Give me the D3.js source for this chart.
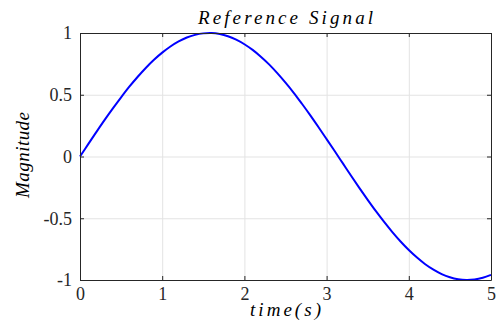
<!DOCTYPE html>
<html>
<head>
<meta charset="utf-8">
<script src="https://cdn.jsdelivr.net/npm/d3@7"></script>
</head>
<body style="margin:0; background:#fff">
<script>
const timeValues = [0.0, 0.1, 0.2, 0.3, 0.4, 0.5, 0.6, 0.7, 0.8, 0.9,
  1.0, 1.1, 1.2, 1.3, 1.4, 1.5, 1.6, 1.7, 1.8, 1.9,
  2.0, 2.1, 2.2, 2.3, 2.4, 2.5, 2.6, 2.7, 2.8, 2.9,
  3.0, 3.1, 3.2, 3.3, 3.4, 3.5, 3.6, 3.7, 3.8, 3.9,
  4.0, 4.1, 4.2, 4.3, 4.4, 4.5, 4.6, 4.7, 4.8, 4.9, 5.0];
const magnitudeValues = [0.000, 0.100, 0.199, 0.296, 0.389, 0.479, 0.565, 0.644, 0.717, 0.783,
  0.841, 0.891, 0.932, 0.964, 0.985, 0.997, 1.000, 0.992, 0.974, 0.946,
  0.909, 0.863, 0.808, 0.746, 0.675, 0.598, 0.516, 0.427, 0.335, 0.239,
  0.141, 0.042, -0.058, -0.158, -0.256, -0.351, -0.443, -0.530, -0.612, -0.688,
  -0.757, -0.818, -0.872, -0.916, -0.952, -0.978, -0.994, -1.000, -0.996, -0.982, -0.959];
const xTicks = [0, 1, 2, 3, 4, 5];
const yTicks = [-1, -0.5, 0, 0.5, 1];
const yTickLabels = ["-1", "-0.5", "0", "0.5", "1"];

const serif = "'Liberation Serif', 'Times New Roman', serif";
const width = 496, height = 322;
const margin = {left: 80, right: 5, top: 33, bottom: 42};
const plotW = width - margin.left - margin.right;
const plotH = height - margin.top - margin.bottom;

const svg = d3.select("body").append("svg")
  .attr("width", width)
  .attr("height", height)
  .attr("font-family", serif)
  .style("display", "block");

const x = d3.scaleLinear().domain([0, 5]).range([0, plotW]);
const y = d3.scaleLinear().domain([-1, 1]).range([plotH, 0]);

const g = svg.append("g").attr("transform", `translate(${margin.left},${margin.top})`);

// grid
const styleGrid = sel => {
  sel.select(".domain").remove();
  sel.selectAll(".tick line").attr("stroke", "#e3e3e3");
};
g.append("g")
  .attr("transform", `translate(0,${plotH})`)
  .call(d3.axisBottom(x).tickValues(xTicks).tickSize(-plotH).tickFormat(""))
  .call(styleGrid);
g.append("g")
  .call(d3.axisLeft(y).tickValues(yTicks).tickSize(-plotW).tickFormat(""))
  .call(styleGrid);

// signal
const points = timeValues.map((t, i) => [t, magnitudeValues[i]]);
g.append("path")
  .datum(points)
  .attr("fill", "none")
  .attr("stroke", "#0000ff")
  .attr("stroke-width", 2)
  .attr("d", d3.line().x(d => x(d[0])).y(d => y(d[1])).curve(d3.curveCatmullRom));

// axes with inward ticks
const styleAxis = sel => {
  sel.attr("font-family", serif).attr("font-size", 18);
  sel.selectAll(".domain").attr("stroke", "#262626");
  sel.selectAll(".tick line").attr("stroke", "#262626");
  sel.selectAll(".tick text").attr("fill", "#262626")
    .style("font-family", serif).style("font-size", "18px");
};
g.append("g")
  .attr("transform", `translate(0,${plotH})`)
  .call(d3.axisBottom(x).tickValues(xTicks).tickSizeInner(-4).tickSizeOuter(0).tickPadding(7).tickFormat(d3.format("d")))
  .call(styleAxis);
g.append("g")
  .call(d3.axisLeft(y).tickValues(yTicks).tickSizeInner(-4).tickSizeOuter(0).tickPadding(8)
    .tickFormat((d, i) => yTickLabels[i]))
  .call(styleAxis);
g.append("g")
  .call(d3.axisTop(x).tickValues(xTicks).tickSizeInner(-4).tickSizeOuter(0).tickFormat(""))
  .call(styleAxis);
g.append("g")
  .attr("transform", `translate(${plotW},0)`)
  .call(d3.axisRight(y).tickValues(yTicks).tickSizeInner(-4).tickSizeOuter(0).tickFormat(""))
  .call(styleAxis);

// labels (spread with textLength, like the LaTeX math italic of the original)
const label = (txt, len) => svg.append("text")
  .attr("text-anchor", "middle")
  .attr("fill", "#000")
  .attr("textLength", len)
  .attr("lengthAdjust", "spacing")
  .style("font-family", serif)
  .style("font-style", "italic")
  .style("font-size", "19px")
  .text(txt);
label("Reference Signal", 175)
  .attr("x", margin.left + plotW / 2).attr("y", 24);
label("time(s)", 71)
  .attr("x", margin.left + plotW / 2).attr("y", 316);
label("Magnitude", 86)
  .attr("transform", `translate(29,155) rotate(-90)`);
</script>
</body>
</html>
